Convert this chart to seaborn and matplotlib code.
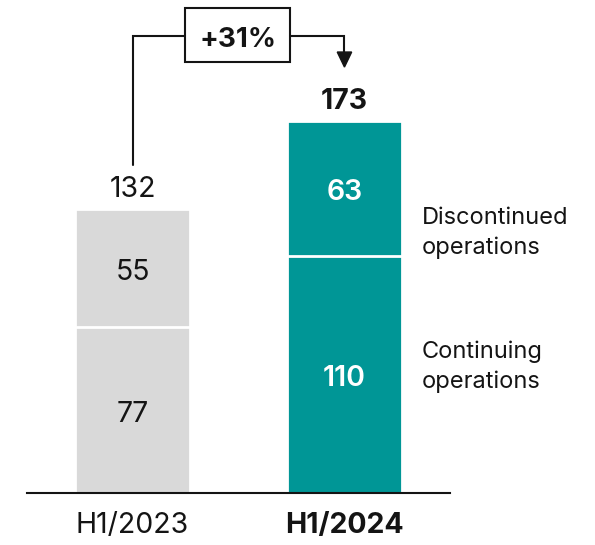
import numpy as np
import pandas as pd
import matplotlib.pyplot as plt
import matplotlib.patches as mpatches
import seaborn as sns

# ── Data ──────────────────────────────────────
periods = ["H1/2023", "H1/2024"]
continuing = [77, 110]
discontinued = [55, 63]
growth_label = "+31%"
seg_names = ["Discontinued\noperations", "Continuing\noperations"]

TEAL = "#009696"
GREY = "#d9d9d9"
INK = "#141414"

sns.set_theme(style="white")
plt.rcParams["font.family"] = ["Inter", "DejaVu Sans"]

totals = [c + d for c, d in zip(continuing, discontinued)]
df = pd.DataFrame({"period": periods, "continuing": continuing, "total": totals})

fig = plt.figure(figsize=(5.95, 5.45), dpi=100)
ax = fig.add_axes([27 / 595, 52 / 545, 423 / 595, 493 / 545])

bar_w = 0.5425
palette = {periods[0]: GREY, periods[1]: TEAL}
sns.barplot(data=df, x="period", y="total", hue="period", palette=palette,
            width=bar_w, legend=False, ax=ax, saturation=1,
            edgecolor="white", linewidth=2)
sns.barplot(data=df, x="period", y="continuing", hue="period", palette=palette,
            width=bar_w, legend=False, ax=ax, saturation=1,
            edgecolor="white", linewidth=2)

ax.set_xlim(-0.498, 1.498)
ax.set_ylim(0, 229.3)

NUM = 20.5
cap = 5.3  # half cap height in data units
# segment labels
for i in range(2):
    col = INK if i == 0 else "white"
    wt = "normal" if i == 0 else "semibold"
    ax.text(i, continuing[i] / 2 - cap, f"{continuing[i]}", ha="center",
            va="baseline", fontsize=NUM, color=col, fontweight=wt)
    ax.text(i, continuing[i] + discontinued[i] / 2 - cap, f"{discontinued[i]}",
            ha="center", va="baseline", fontsize=NUM, color=col, fontweight=wt)
    ax.text(i, totals[i] + 5.5, f"{totals[i]}", ha="center", va="baseline",
            fontsize=NUM, color=INK, fontweight="bold" if i == 1 else "normal")

# right-hand segment names
ax.text(1.365, continuing[1] + discontinued[1] / 2 - 20.5, seg_names[0],
        ha="left", va="center", fontsize=17, color=INK, linespacing=1.42,
        clip_on=False)
ax.text(1.365, continuing[1] / 2 + 3.8, seg_names[1],
        ha="left", va="center", fontsize=17, color=INK, linespacing=1.42,
        clip_on=False)

# growth bracket
top_y = max(totals) + 39.6
box_l, box_r = 0.248, 0.743
ax.plot([0, 0, box_l], [totals[0] + 20.6, top_y, top_y], color=INK, lw=1.5,
        solid_joinstyle="miter", clip_on=False)
ax.plot([box_r, 1, 1], [top_y, top_y, totals[1] + 31], color=INK, lw=1.5,
        solid_joinstyle="miter", clip_on=False)
ax.add_patch(mpatches.Polygon([[1 - 0.034, totals[1] + 32.1], [1 + 0.034, totals[1] + 32.1],
                               [1, totals[1] + 25.1]], closed=True, color=INK,
                              clip_on=False))
ax.add_patch(mpatches.Rectangle((box_l, top_y - 12.1), box_r - box_l, 25.1,
                                fill=False, edgecolor=INK, lw=1.5, clip_on=False))
ax.text((box_l + box_r) / 2, top_y - cap, growth_label, ha="center", va="baseline",
        fontsize=20, fontweight="bold", color=INK)

# axes styling
sns.despine(ax=ax, left=True)
ax.spines["bottom"].set_color(INK)
ax.spines["bottom"].set_linewidth(1.5)
ax.set_yticks([])
ax.set_xlabel("")
ax.set_ylabel("")
ax.tick_params(axis="x", length=0, pad=14, labelsize=20.5, colors=INK)
for lbl, w in zip(ax.get_xticklabels(), ["normal", "bold"]):
    lbl.set_fontweight(w)

fig.savefig("out.png", dpi=100)
